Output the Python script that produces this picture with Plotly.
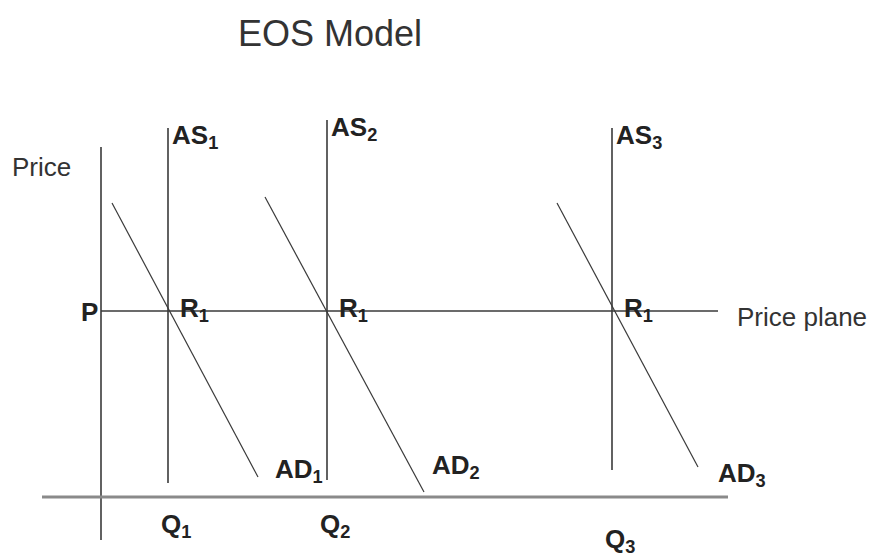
import plotly.graph_objects as go

# ---- diagram data (in chart units: x = quantity, y = price, top-down) ----
as_labels = ["AS<sub>1</sub>", "AS<sub>2</sub>", "AS<sub>3</sub>"]
as_x = [168, 327, 612]
as_top = [128, 120, 128]
as_bottom = [483, 480, 470]

ad_labels = ["AD<sub>1</sub>", "AD<sub>2</sub>", "AD<sub>3</sub>"]
ad_x_start = [112, 265, 557]
ad_y_start = [203, 197, 203]
ad_x_end = [258, 424, 698]
ad_y_end = [477, 492, 467]

q_labels = ["Q<sub>1</sub>", "Q<sub>2</sub>", "Q<sub>3</sub>"]
q_label_y = [525, 525, 540]

price_level = 311
price_plane_x = [101, 718]
y_axis_x = 101
y_axis_span = [147, 540]
x_axis_y = 497
x_axis_span = [42, 728]

LINE = "#3a3a3a"
FONT = "Liberation Sans, Arial, sans-serif"

fig = go.Figure()

# vertical price axis
fig.add_trace(go.Scatter(x=[y_axis_x, y_axis_x], y=y_axis_span, mode="lines",
                         line=dict(color=LINE, width=1.6), hoverinfo="skip"))
# horizontal quantity axis
fig.add_trace(go.Scatter(x=x_axis_span, y=[x_axis_y, x_axis_y], mode="lines",
                         line=dict(color="#8a8a8a", width=3), hoverinfo="skip"))
# price plane
fig.add_trace(go.Scatter(x=price_plane_x, y=[price_level, price_level], mode="lines",
                         line=dict(color=LINE, width=1.6), hoverinfo="skip"))
# AS curves
for x, t, b in zip(as_x, as_top, as_bottom):
    fig.add_trace(go.Scatter(x=[x, x], y=[t, b], mode="lines",
                             line=dict(color=LINE, width=1.6), hoverinfo="skip"))
# AD curves
for x0, y0, x1, y1 in zip(ad_x_start, ad_y_start, ad_x_end, ad_y_end):
    fig.add_trace(go.Scatter(x=[x0, x1], y=[y0, y1], mode="lines",
                             line=dict(color=LINE, width=1.2), hoverinfo="skip"))

ann = []
bold = dict(family=FONT, size=26, color="#222")
# AS labels
for lab, x, t in zip(as_labels, as_x, as_top):
    ann.append(dict(x=x + 2, y=t + 8, text="<b>" + lab + "</b>", xanchor="left",
                    yanchor="middle", showarrow=False, font=bold))
# R1 labels at intersections
for x in as_x:
    ann.append(dict(x=x + 10, y=price_level - 2, text="<b>R<sub>1</sub></b>", xanchor="left",
                    yanchor="middle", showarrow=False, font=bold))
# AD labels
ad_label_pos = [(273, 470), (430, 466), (716, 474)]
for lab, (x, y) in zip(ad_labels, ad_label_pos):
    ann.append(dict(x=x, y=y, text="<b>" + lab + "</b>", xanchor="left",
                    yanchor="middle", showarrow=False, font=bold))
# Q labels
for lab, x, y in zip(q_labels, as_x, q_label_y):
    ann.append(dict(x=x - 9, y=y, text="<b>" + lab + "</b>", xanchor="left",
                    yanchor="middle", showarrow=False, font=bold))
# P
ann.append(dict(x=y_axis_x - 1, y=price_level + 1, text="<b>P</b>", xanchor="right",
                yanchor="middle", showarrow=False, font=bold))
# Price / Price plane
ann.append(dict(x=10, y=167, text="Price", xanchor="left", yanchor="middle",
                showarrow=False, font=dict(family=FONT, size=26, color="#333")))
ann.append(dict(x=735, y=317, text="Price plane", xanchor="left", yanchor="middle",
                showarrow=False, font=dict(family=FONT, size=26, color="#333")))
# title
ann.append(dict(x=330, y=33, text="EOS Model", xanchor="center", yanchor="middle",
                showarrow=False, font=dict(family=FONT, size=36, color="#333")))

# The page body has an 8px margin; size the figure and ranges so that
# chart units line up with window pixels.
fig.update_layout(
    width=867, height=548,
    margin=dict(l=0, r=0, t=0, b=0),
    paper_bgcolor="white", plot_bgcolor="white",
    showlegend=False,
    xaxis=dict(range=[8, 875], visible=False, fixedrange=True),
    yaxis=dict(range=[556, 8], visible=False, fixedrange=True),
    annotations=ann,
)

fig.write_html("out.html")
